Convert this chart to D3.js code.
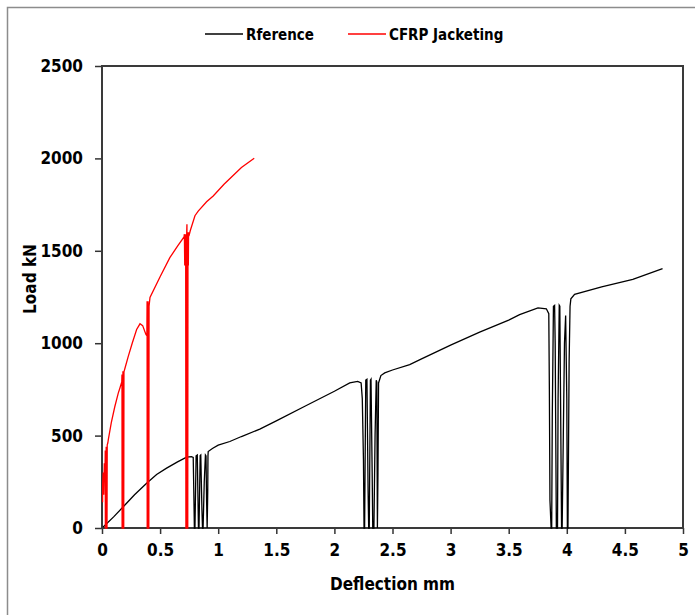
<!DOCTYPE html>
<html>
<head>
<meta charset="utf-8">
<script src="https://cdn.jsdelivr.net/npm/d3@7"></script>
<style>
  html, body { margin: 0; padding: 0; background: #fff; }
  text { font-family: 'DejaVu Sans Condensed', 'DejaVu Sans', sans-serif; font-stretch: condensed; font-weight: bold; fill: #000; }
</style>
</head>
<body>
<div id="chart"></div>
<script>
// Reference specimen: deflection (mm) and load (kN)
const refDeflection = [
  0.01, 0.1, 0.183, 0.28, 0.384, 0.47, 0.556, 0.65, 0.728, 0.77, 0.785,
  0.79, 0.795, 0.8, 0.81, 0.82, 0.83, 0.835, 0.845, 0.85, 0.86, 0.865, 0.87, 0.88, 0.89, 0.895, 0.9, 0.905, 0.91, 0.912,
  0.914, 0.95, 1.0, 1.1, 1.2, 1.358, 1.5, 1.75, 2.0, 2.132, 2.2, 2.23, 2.24,
  2.25, 2.255, 2.26, 2.27, 2.28, 2.29, 2.295, 2.3, 2.31, 2.315, 2.325, 2.33, 2.34, 2.35, 2.36, 2.365, 2.37, 2.375, 2.38,
  2.4, 2.433, 2.5, 2.648, 2.75, 3.0, 3.25, 3.5, 3.594, 3.752, 3.824, 3.845,
  3.85, 3.855, 3.865, 3.87, 3.875, 3.885, 3.895, 3.9, 3.91, 3.92, 3.925, 3.935, 3.94, 3.945, 3.955, 3.96, 3.97, 3.98, 3.99, 4.0, 4.005, 4.01, 4.02, 4.028,
  4.035, 4.067, 4.3, 4.568, 4.824
]
const refLoad = [
  5, 60, 115, 180, 242, 290, 324, 358, 383, 386, 382,
  200, 0, 0, 390, 395, 0, 0, 392, 395, 100, 0, 0, 250, 395, 390, 150, 0, 200, 390,
  414, 430, 448, 468, 495, 535, 580, 660, 740, 785, 793, 785, 700,
  370, 0, 0, 800, 805, 200, 0, 0, 800, 805, 300, 0, 0, 500, 800, 790, 0, 300, 785,
  825, 839, 855, 884, 915, 990, 1060, 1125, 1155, 1191, 1186, 1160,
  750, 150, 0, 0, 600, 1200, 1205, 1000, 0, 0, 700, 1205, 1200, 800, 0, 0, 500, 1000, 1150, 700, 0, 0, 900, 1200,
  1240, 1264, 1305, 1345, 1404
]

// CFRP jacketed specimen
const cfrpDeflection = [
  0.005, 0.005, 0.01, 0.015, 0.02, 0.025, 0.028, 0.029, 0.034, 0.036, 0.038, 0.043, 0.045, 0.05, 0.054,
  0.08, 0.11, 0.14, 0.155, 0.17, 0.172, 0.173, 0.178, 0.18, 0.182, 0.187, 0.189,
  0.2, 0.226, 0.26, 0.298, 0.327, 0.35, 0.378, 0.386, 0.388, 0.389, 0.394, 0.396, 0.398, 0.403, 0.405,
  0.413, 0.5, 0.585, 0.65, 0.706, 0.709, 0.712, 0.715, 0.718, 0.72, 0.722, 0.727, 0.729, 0.731, 0.733, 0.738, 0.74, 0.743, 0.745, 0.748,
  0.76, 0.8, 0.828, 0.9, 0.957, 1.05, 1.2, 1.31
]
const cfrpLoad = [
  140, 230, 300, 180, 350, 260, 420, 0, 0, 440, 0, 0, 450, 460, 477,
  570, 656, 730, 759, 790, 830, 0, 0, 848, 0, 0, 845,
  870, 929, 1000, 1074, 1105, 1095, 1047, 1040, 1227, 0, 0, 1227, 0, 0, 1200,
  1247, 1360, 1464, 1525, 1575, 1590, 1420, 1590, 1480, 1590, 0, 0, 1600, 1643, 0, 0, 1600, 1420, 1600, 1580,
  1610, 1690, 1715, 1765, 1797, 1860, 1951, 2001
]

const xTicks = [0, 0.5, 1, 1.5, 2, 2.5, 3, 3.5, 4, 4.5, 5]
const yTicks = [0, 500, 1000, 1500, 2000, 2500]

const width = 695
const height = 615
const plot = { left: 102, right: 683, top: 66, bottom: 528 }

const svg = d3.select('#chart')
  .append('svg')
  .attr('width', width)
  .attr('height', height)

// outer frame, runs off the right and bottom edges
svg.append('rect')
  .attr('x', 7.5)
  .attr('y', 7.5)
  .attr('width', width + 20)
  .attr('height', height + 20)
  .attr('fill', 'none')
  .attr('stroke', '#8c8c8c')
  .attr('stroke-width', 1.5)

const x = d3.scaleLinear().domain([0, 5]).range([plot.left, plot.right])
const y = d3.scaleLinear().domain([0, 2500]).range([plot.bottom, plot.top])

// x axis
const xAxis = svg.append('g')
  .attr('transform', `translate(0, ${plot.bottom})`)
  .call(d3.axisBottom(x).tickValues(xTicks).tickSize(6).tickPadding(10).tickFormat((d) => String(d)))
xAxis.select('.domain').remove()
xAxis.selectAll('line').attr('stroke', '#333').attr('stroke-width', 1.5)
xAxis.selectAll('text').style('font-size', '17px')

// y axis
const yAxis = svg.append('g')
  .attr('transform', `translate(${plot.left}, 0)`)
  .call(d3.axisLeft(y).tickValues(yTicks).tickSize(7).tickPadding(12).tickFormat((d) => String(d)))
yAxis.select('.domain').remove()
yAxis.selectAll('line').attr('stroke', '#333').attr('stroke-width', 1.5)
yAxis.selectAll('text').style('font-size', '17px')

// plot box
svg.append('rect')
  .attr('x', plot.left)
  .attr('y', plot.top)
  .attr('width', plot.right - plot.left)
  .attr('height', plot.bottom - plot.top)
  .attr('fill', 'none')
  .attr('stroke', '#3a3a3a')
  .attr('stroke-width', 2)

const line = d3.line()
  .x((d) => x(d[0]))
  .y((d) => y(d[1]))

const refData = refDeflection.map((d, i) => [d, refLoad[i]])
const cfrpData = cfrpDeflection.map((d, i) => [d, cfrpLoad[i]])

svg.append('path')
  .datum(refData)
  .attr('d', line)
  .attr('fill', 'none')
  .attr('stroke', '#000')
  .attr('stroke-width', 1.3)

svg.append('path')
  .datum(cfrpData)
  .attr('d', line)
  .attr('fill', 'none')
  .attr('stroke', '#ff0000')
  .attr('stroke-width', 1.3)

// axis titles
svg.append('text')
  .attr('x', (plot.left + plot.right) / 2)
  .attr('y', 590)
  .attr('text-anchor', 'middle')
  .style('font-size', '17px')
  .text('Deflection mm')

svg.append('text')
  .attr('transform', 'translate(36, 279) rotate(-90)')
  .attr('text-anchor', 'middle')
  .style('font-size', '17px')
  .text('Load kN')

// legend
const legendItems = [
  { label: 'Rference', color: '#000', x: 205 },
  { label: 'CFRP Jacketing', color: '#ff0000', x: 348 },
]
const legend = svg.append('g')
legendItems.forEach((item) => {
  legend.append('line')
    .attr('x1', item.x).attr('x2', item.x + 38)
    .attr('y1', 34).attr('y2', 34)
    .attr('stroke', item.color)
    .attr('stroke-width', 1.5)
  legend.append('text')
    .attr('x', item.x + 41)
    .attr('y', 40)
    .style('font-size', '15px')
    .text(item.label)
})
</script>
</body>
</html>
